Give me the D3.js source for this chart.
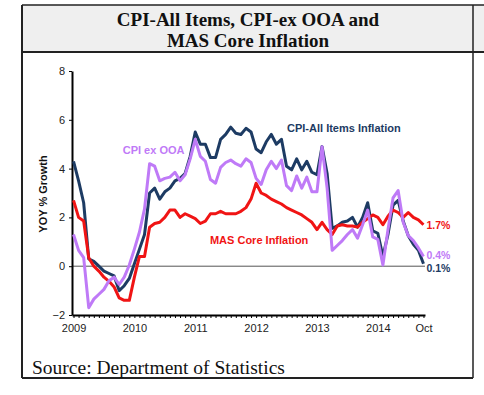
<!DOCTYPE html>
<html>
<head>
<meta charset="utf-8">
<script src="https://cdn.jsdelivr.net/npm/d3@7"></script>
<style>
  body { margin: 0; background: #fff; }
  svg { display: block; }
</style>
</head>
<body>
<div id="chart"></div>
<script>
// monthly data, Jan 2009 .. Oct 2014 (index 0..69)
var cpiAll = [4.3, 3.5, 2.6, 0.3, 0.2, 0.0, -0.2, -0.3, -0.4, -1.0, -0.8, -0.5,
  0.1, 0.7, 1.3, 3.0, 3.2, 2.75, 3.05, 3.2, 3.5, 3.6, 3.8, 4.5,
  5.5, 5.0, 5.0, 4.45, 4.45, 5.2, 5.4, 5.7, 5.45, 5.4, 5.65, 5.5,
  4.8, 4.65, 5.1, 5.4, 5.0, 5.2, 4.1, 3.95, 4.4, 3.95, 4.3, 3.85,
  3.75, 4.9, 3.8, 1.55, 1.65, 1.8, 1.85, 2.0, 1.6, 2.0, 2.6, 1.45,
  1.35, 0.4, 1.3, 2.5, 2.7, 1.85, 1.25, 0.9, 0.65, 0.1];
var cpiExOOA = [1.3, 0.65, 0.35, -1.7, -1.35, -1.15, -0.95, -0.6, -0.45, -0.75, -0.45, 0.05,
  0.7, 1.4, 2.35, 4.2, 4.1, 3.5, 3.6, 3.65, 3.85, 3.5, 3.75, 4.4,
  5.2, 4.5, 4.3, 3.55, 3.4, 4.05, 4.25, 4.35, 4.2, 4.1, 4.4, 4.25,
  3.6, 3.35, 3.95, 4.3, 4.0, 4.35, 3.3, 3.1, 3.7, 3.2, 3.65, 3.05,
  3.05, 4.9, 3.2, 0.65, 0.85, 1.05, 1.3, 1.5, 1.15, 1.7, 2.3, 1.2,
  1.1, 0.05, 1.5, 2.8, 3.1, 1.8, 1.25, 1.05, 0.75, 0.4];
var masCore = [2.7, 2.0, 1.85, 0.35, 0.0, -0.2, -0.45, -0.62, -0.85, -1.3, -1.4, -1.4,
  -0.45, 0.4, 0.4, 1.6, 1.75, 1.8, 2.0, 2.3, 2.3, 2.0, 2.15, 2.05,
  1.95, 1.75, 1.85, 2.15, 2.15, 2.25, 2.15, 2.15, 2.15, 2.25, 2.4, 2.75,
  3.4, 3.0, 2.9, 2.75, 2.65, 2.55, 2.4, 2.3, 2.2, 2.1, 1.95, 1.8,
  1.5, 1.8, 1.5, 1.3, 1.65, 1.7, 1.65, 1.65, 1.6, 1.8, 1.95, 2.1,
  2.0, 1.7, 2.05, 2.3, 2.2, 2.0, 2.2, 2.0, 1.9, 1.7];

var xLabels = ["2009", "2010", "2011", "2012", "2013", "2014", "Oct"];
var xLabelMonths = [0, 12, 24, 36, 48, 60, 69];
var yTicks = [-2, 0, 2, 4, 6, 8];

var navy = "#1d3b63", purple = "#bf7af7", red = "#f01414";

var svg = d3.select("#chart")
  .append("svg")
    .attr("width", 484)
    .attr("height", 395);

// table frame with grey header cell
svg.append("rect")
  .attr("x", 22).attr("y", 5)
  .attr("width", 462).attr("height", 47)
  .attr("fill", "#efefef");
svg.append("line").attr("x1", 22).attr("x2", 484).attr("y1", 5).attr("y2", 5)
  .attr("stroke", "#222").attr("stroke-width", 1.5);
svg.append("line").attr("x1", 22).attr("x2", 484).attr("y1", 52).attr("y2", 52)
  .attr("stroke", "#222").attr("stroke-width", 2);
svg.append("line").attr("x1", 22).attr("x2", 22).attr("y1", 5).attr("y2", 378)
  .attr("stroke", "#222").attr("stroke-width", 2);
svg.append("line").attr("x1", 473).attr("x2", 473).attr("y1", 5).attr("y2", 378)
  .attr("stroke", "#222").attr("stroke-width", 1.5);
svg.append("line").attr("x1", 22).attr("x2", 473).attr("y1", 378).attr("y2", 378)
  .attr("stroke", "#222").attr("stroke-width", 2);

// title
var title = svg.append("text")
  .attr("x", 248)
  .attr("text-anchor", "middle")
  .style("font-family", "'Liberation Serif', 'Times New Roman', serif")
  .style("font-weight", "bold")
  .style("font-size", "19px")
  .attr("fill", "#111");
title.append("tspan").attr("x", 248).attr("y", 26).text("CPI-All Items, CPI-ex OOA and");
title.append("tspan").attr("x", 248).attr("y", 47).text("MAS Core Inflation");

// source
svg.append("text")
  .attr("x", 32)
  .attr("y", 374)
  .style("font-family", "'Liberation Serif', 'Times New Roman', serif")
  .style("font-size", "19.5px")
  .attr("fill", "#111")
  .text("Source: Department of Statistics");

// scales
var x = d3.scaleLinear().domain([-0.3, 69.3]).range([72, 425]);
var y = d3.scaleLinear().domain([-2, 8]).range([315, 71]);

var sans = "'Liberation Sans', Arial, sans-serif";

// zero line
svg.append("line")
  .attr("x1", x.range()[0]).attr("x2", x.range()[1])
  .attr("y1", y(0)).attr("y2", y(0))
  .attr("stroke", "#555").attr("stroke-width", 1);

// x axis: monthly minor ticks
var months = d3.range(0, cpiAll.length);
var xAxis = svg.append("g")
  .attr("transform", "translate(0," + y(-2) + ")")
  .call(d3.axisBottom(x).tickValues(months).tickSize(3).tickSizeOuter(0).tickFormat(""));
xAxis.select(".domain").attr("stroke", "#000").attr("stroke-width", 2);
xAxis.selectAll(".tick line").attr("stroke", "#000").attr("stroke-width", 1);

// x axis labels
var xLab = svg.append("g")
  .attr("transform", "translate(0," + y(-2) + ")")
  .call(d3.axisBottom(x).tickValues(xLabelMonths).tickSize(0).tickPadding(9)
    .tickFormat(function(d, i) { return xLabels[i]; }));
xLab.select(".domain").remove();
xLab.selectAll("text")
  .style("font-family", sans).style("font-size", "11px").attr("fill", "#222");

// y axis
var yAxis = svg.append("g")
  .attr("transform", "translate(" + x.range()[0] + ",0)")
  .call(d3.axisLeft(y).tickValues(yTicks).tickSize(3).tickSizeOuter(0).tickPadding(4));
yAxis.select(".domain").attr("stroke", "#000").attr("stroke-width", 2);
yAxis.selectAll("text")
  .style("font-family", sans).style("font-size", "11px").attr("fill", "#222");

svg.append("text")
  .attr("transform", "translate(47,194) rotate(-90)")
  .attr("text-anchor", "middle")
  .style("font-family", sans)
  .style("font-weight", "bold")
  .style("font-size", "11px")
  .attr("fill", "#111")
  .text("YOY % Growth");

// lines
var line = d3.line()
  .x(function(d, i) { return x(i); })
  .y(function(d) { return y(d); });

[[cpiAll, navy], [masCore, red], [cpiExOOA, purple]].forEach(function(s) {
  svg.append("path")
    .datum(s[0])
    .attr("fill", "none")
    .attr("stroke", s[1])
    .attr("stroke-width", 3)
    .attr("stroke-linejoin", "round")
    .attr("d", line);
});

// series labels
var seriesLabels = [
  {text: "CPI-All Items Inflation", month: 42.1, value: 5.5, color: navy},
  {text: "CPI ex OOA", month: 9.7, value: 4.6, color: purple},
  {text: "MAS Core Inflation", month: 26.9, value: 0.9, color: red}
];
svg.selectAll(".slabel")
  .data(seriesLabels)
  .enter().append("text")
    .attr("x", function(d) { return x(d.month); })
    .attr("y", function(d) { return y(d.value); })
    .style("font-family", sans)
    .style("font-weight", "bold")
    .style("font-size", "11px")
    .attr("fill", function(d) { return d.color; })
    .text(function(d) { return d.text; });

// end values
var last = cpiAll.length - 1;
var endLabels = [
  {v: masCore[last], color: red, dy: 4.5},
  {v: cpiExOOA[last], color: purple, dy: 3},
  {v: cpiAll[last], color: navy, dy: 8}
];
svg.selectAll(".elabel")
  .data(endLabels)
  .enter().append("text")
    .attr("x", x(last) + 3)
    .attr("y", function(d) { return y(d.v) + d.dy; })
    .style("font-family", sans)
    .style("font-weight", "bold")
    .style("font-size", "10.5px")
    .attr("fill", function(d) { return d.color; })
    .text(function(d) { return d3.format(".1f")(d.v) + "%"; });
</script>
</body>
</html>
